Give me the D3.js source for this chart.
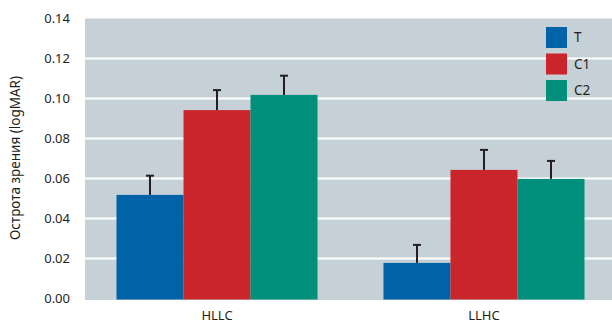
<!DOCTYPE html>
<html>
<head>
<meta charset="utf-8">
<script src="https://cdn.jsdelivr.net/npm/d3@7"></script>
<style>
  body { margin: 0; background: #fff; }
  svg text { font-family: "Noto Sans", "Open Sans", sans-serif; fill: #231f20; }
</style>
</head>
<body>
<svg width="612" height="327"></svg>
<script>
// data
var groups = ['HLLC', 'LLHC']
var series = ['T', 'C1', 'C2']
var seriesColors = ['#0062a7', '#cb252c', '#008f7a']
var meansHLLC = [0.0518, 0.0942, 0.1018]
var meansLLHC = [0.0178, 0.0643, 0.0598]
var errHLLC = [0.0096, 0.0100, 0.0096]
var errLLHC = [0.0090, 0.0100, 0.0090]
var yTicks = [0, 0.02, 0.04, 0.06, 0.08, 0.10, 0.12, 0.14]

var means = [meansHLLC, meansLLHC]
var errs = [errHLLC, errLLHC]

var rows = []
groups.forEach(function (g, gi) {
  series.forEach(function (s, si) {
    rows.push({ group: g, series: s, value: means[gi][si], err: errs[gi][si] })
  })
})

var svg = d3.select('svg')
var plotLeft = 85, plotRight = 612, plotTop = 18.5, plotBottom = 298.5

var yScale = d3.scaleLinear().domain([0, 0.14]).range([plotBottom, plotTop])
var xScale = d3.scaleBand()
               .domain(groups)
               .range([plotLeft, 616])
               .paddingInner(0.247)
               .paddingOuter(0.118)
var xInner = d3.scaleBand()
               .domain(series)
               .range([0, xScale.bandwidth()])
var color = d3.scaleOrdinal().domain(series).range(seriesColors)

// background
svg.append('rect')
   .attr('x', plotLeft)
   .attr('y', plotTop)
   .attr('width', plotRight - plotLeft)
   .attr('height', plotBottom - plotTop + 1.5)
   .attr('fill', '#c6d0d7')

// gridlines
svg.selectAll('.grid')
   .data(yTicks.slice(1, -1))
   .enter()
   .append('line')
   .attr('class', 'grid')
   .attr('x1', plotLeft)
   .attr('x2', plotRight)
   .attr('y1', d => yScale(d))
   .attr('y2', d => yScale(d))
   .attr('stroke', '#fff')
   .attr('stroke-width', 2.2)

// y axis labels
var yAxis = d3.axisLeft(yScale)
              .tickValues(yTicks)
              .tickSize(0)
              .tickPadding(0)
              .tickFormat(d3.format('.2f'))
var yg = svg.append('g')
            .attr('transform', 'translate(70,0)')
            .call(yAxis)
yg.select('.domain').remove()
yg.selectAll('text')
  .attr('font-family', null)
  .attr('font-size', null)
  .style('font-size', '13px')
  .attr('fill', '#231f20')

svg.append('text')
   .attr('transform', 'translate(20,158) rotate(-90)')
   .attr('text-anchor', 'middle')
   .style('font-size', '13.5px')
   .text('Острота зрения (logMAR)')

// bars
svg.selectAll('.bar')
   .data(rows)
   .enter()
   .append('rect')
   .attr('class', 'bar')
   .attr('x', d => xScale(d.group) + xInner(d.series))
   .attr('y', d => yScale(d.value))
   .attr('width', xInner.bandwidth())
   .attr('height', d => plotBottom + 1 - yScale(d.value))
   .attr('fill', d => color(d.series))

// error bars
var eb = svg.selectAll('.err')
            .data(rows)
            .enter()
            .append('g')
            .attr('class', 'err')
            .attr('stroke', '#231f20')
            .attr('stroke-width', 2)
var cx = d => xScale(d.group) + xInner(d.series) + xInner.bandwidth() / 2
eb.append('line')
  .attr('x1', cx)
  .attr('x2', cx)
  .attr('y1', d => yScale(d.value))
  .attr('y2', d => yScale(d.value + d.err))
eb.append('line')
  .attr('x1', d => cx(d) - 4)
  .attr('x2', d => cx(d) + 4)
  .attr('y1', d => yScale(d.value + d.err))
  .attr('y2', d => yScale(d.value + d.err))

// x labels
svg.selectAll('.xlabel')
   .data(groups)
   .enter()
   .append('text')
   .attr('class', 'xlabel')
   .attr('x', d => xScale(d) + xScale.bandwidth() / 2)
   .attr('y', 320)
   .attr('text-anchor', 'middle')
   .style('font-size', '13px')
   .text(d => d)

// legend
var legend = svg.selectAll('.legend')
                .data(series)
                .enter()
                .append('g')
                .attr('class', 'legend')
                .attr('transform', (d, i) => 'translate(546,' + (27 + i * 26.5) + ')')
legend.append('rect')
      .attr('width', 21)
      .attr('height', 21)
      .attr('fill', d => color(d))
legend.append('text')
      .attr('x', 28)
      .attr('y', 15)
      .style('font-size', '13.5px')
      .text(d => d)
</script>
</body>
</html>
